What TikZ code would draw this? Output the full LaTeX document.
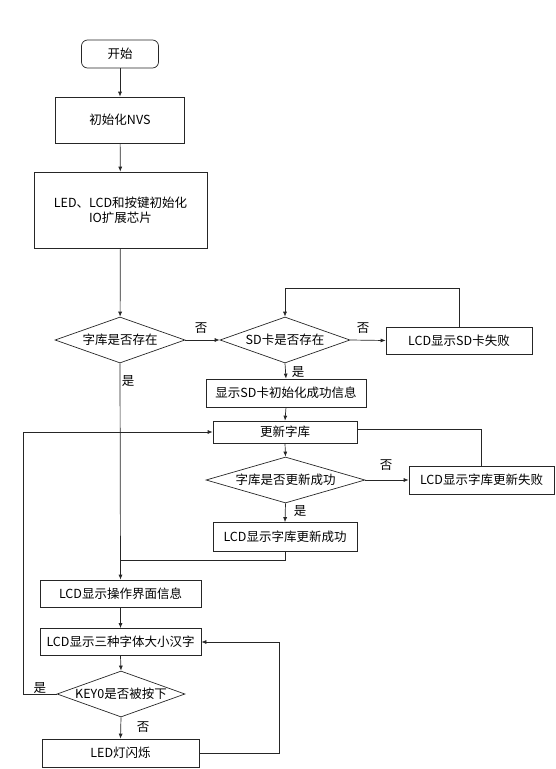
\documentclass[tikz,border=0pt]{standalone}
\usepackage{fontspec}
\setmainfont{Noto Sans CJK SC}
\usetikzlibrary{shapes.geometric,arrows.meta}
\begin{document}
\begin{tikzpicture}[x=1pt,y=-1pt,
  every node/.style={font=\fontsize{12.5}{15.5}\selectfont, text=black},
  box/.style={draw=black!85, line width=0.7pt, rectangle, inner sep=0pt, align=center},
  dia/.style={draw=black!85, line width=0.7pt, diamond, inner sep=0pt},
  lbl/.style={inner sep=0pt},
  conn/.style={draw=black!85, line width=0.7pt},
  arr/.style={conn, -{Latex[length=5pt,width=4pt]}}]
\useasboundingbox (0,0) rectangle (556,769);
\node[box, rounded corners=6pt, minimum width=77pt, minimum height=28pt] (start) at (120,54) {开始};
\node[box, minimum width=129pt, minimum height=46pt] (nvs) at (120,120) {初始化NVS};
\node[box, minimum width=173pt, minimum height=76pt] (led) at (120.5,210) {LED、LCD和按键初始化\\IO扩展芯片};
\node[dia, minimum width=130pt, minimum height=46pt] (d1) at (120,340) {\makebox[0pt]{字库是否存在}};
\node[dia, minimum width=130pt, minimum height=46pt] (d2) at (285,340) {\makebox[0pt]{SD卡是否存在}};
\node[box, minimum width=146pt, minimum height=27pt] (sdfail) at (459,340.5) {LCD显示SD卡失败};
\node[box, minimum width=160pt, minimum height=28pt] (sdok) at (286,393) {显示SD卡初始化成功信息};
\node[box, minimum width=144pt, minimum height=22pt] (upd) at (285,432) {更新字库};
\node[dia, minimum width=159pt, minimum height=46pt] (d3) at (285.5,480) {\makebox[0pt]{字库是否更新成功}};
\node[box, minimum width=145pt, minimum height=28pt] (updfail) at (481.5,480) {LCD显示字库更新失败};
\node[box, minimum width=144pt, minimum height=29pt] (updok) at (285,537) {LCD显示字库更新成功};
\node[box, minimum width=161pt, minimum height=27pt] (ui) at (120.5,593.5) {LCD显示操作界面信息};
\node[box, minimum width=161pt, minimum height=27pt] (show) at (120.5,642) {LCD显示三种字体大小汉字};
\node[dia, minimum width=128pt, minimum height=46pt] (d4) at (121,694) {\makebox[0pt]{KEY0是否被按下}};
\node[box, minimum width=157pt, minimum height=28pt] (blink) at (120.5,753) {LED灯闪烁};
\coordinate (top) at (0,288);
\coordinate (join) at (120,560);
\coordinate (leftx) at (23,0);
\coordinate (rightx) at (279,0);
\draw[arr] (start) -- (nvs);
\draw[arr] (nvs) -- (led);
\draw[arr] (led) -- (d1);
\draw[arr] (d1.east) -- (d2.west);
\draw[arr] (d2.east) -- (sdfail.west);
\draw[arr] (sdfail.north) -- (sdfail.north |- top) -| (d2.north);
\draw[arr] (d2.south) -- (sdok.north);
\draw[arr] (sdok.south) -- (upd.north);
\draw[arr] (upd.south) -- (d3.north);
\draw[arr] (d3.east) -- (updfail.west);
\draw[conn] (updfail.north) |- ([yshift=3pt]upd.east);
\draw[arr] (d3.south) -- (updok.north);
\draw[conn] (updok.south) |- (join);
\draw[arr] (d1.south) -- (ui.north);
\draw[arr] (ui.south) -- (show.north);
\draw[arr] (show.south) -- (d4.north);
\draw[arr] (d4.south) -- (blink.north);
\draw[arr] (d4.west) -- (d4.west -| leftx) |- (upd.west);
\draw[arr] (blink.east) -- (blink.east -| rightx) |- (show.east);
\node[lbl] (n1) at (201,328) {否};
\node[lbl] (n2) at (363,328) {否};
\node[lbl] (y1) at (298,372) {是};
\node[lbl] (n3) at (386,465) {否};
\node[lbl] (y2) at (300,511) {是};
\node[lbl] (y3) at (128,381) {是};
\node[lbl] (y4) at (40,688) {是};
\node[lbl] (n4) at (143,727) {否};
\end{tikzpicture}
\end{document}
